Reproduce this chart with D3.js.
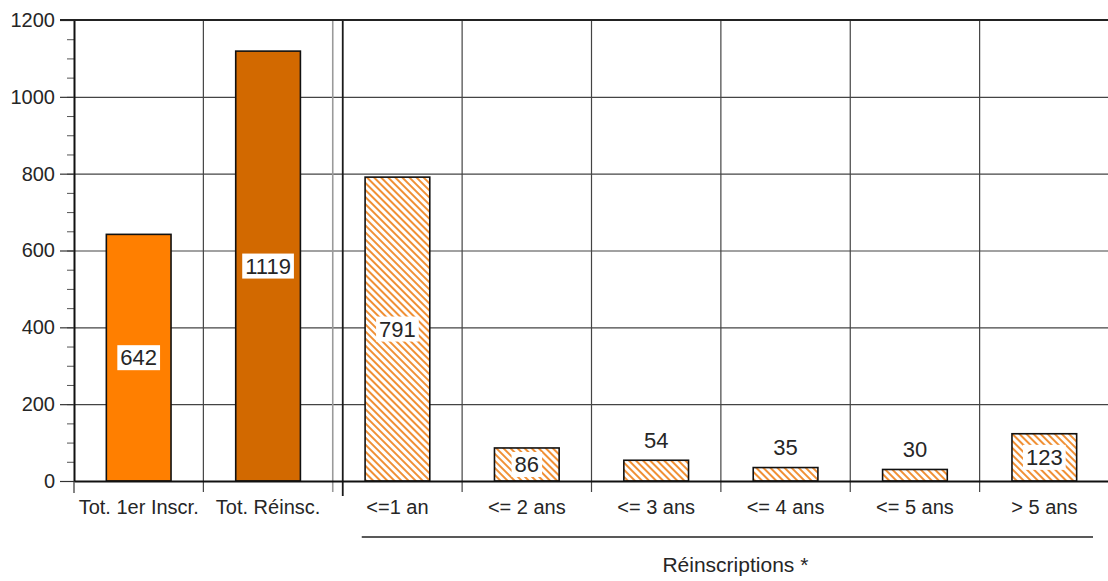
<!DOCTYPE html>
<html>
<head>
<meta charset="utf-8">
<script src="https://cdn.jsdelivr.net/npm/d3@7"></script>
<style>
  html, body { margin: 0; padding: 0; background: #fff; }
  svg { display: block; font-family: "Liberation Sans", Arial, sans-serif; }
</style>
</head>
<body>
<svg id="chart" width="1108" height="581"></svg>
<script>
// Inscriptions : totaux puis réinscriptions par ancienneté
const categories = ["Tot. 1er Inscr.", "Tot. Réinsc.", "<=1 an", "<= 2 ans", "<= 3 ans", "<= 4 ans", "<= 5 ans", "> 5 ans"];
const values = [642, 1119, 791, 86, 54, 35, 30, 123];
const barKinds = ["solid", "solid", "hatch", "hatch", "hatch", "hatch", "hatch", "hatch"];
const barColors = ["#ff7f00", "#d26900", "#f08a2a", "#f08a2a", "#f08a2a", "#f08a2a", "#f08a2a", "#f08a2a"];
const yTicks = [0, 200, 400, 600, 800, 1000, 1200];
const groupLabel = "Réinscriptions *";
const groupStart = 2; // first category of the "Réinscriptions" group

const svg = d3.select("#chart");
const plotLeft = 74, plotRight = 1109, plotTop = 20, plotBottom = 481;
const textColor = "#262626";

const x = d3.scaleBand().domain(categories).range([plotLeft, plotRight]).paddingInner(0).paddingOuter(0);
const y = d3.scaleLinear().domain([0, 1200]).range([plotBottom, plotTop]);

// hatch pattern for the breakdown bars
const defs = svg.append("defs");
const pat = defs.append("pattern")
  .attr("id", "hatch")
  .attr("patternUnits", "userSpaceOnUse")
  .attr("width", 5).attr("height", 5)
  .attr("patternTransform", "rotate(45)");
pat.append("rect").attr("width", 5).attr("height", 5).attr("fill", "#fff");
pat.append("line").attr("x1", 0).attr("y1", 1).attr("x2", 5).attr("y2", 1)
  .attr("stroke", "#f08a2a").attr("stroke-width", 1.9);

// horizontal gridlines
svg.append("g")
  .attr("transform", `translate(${plotLeft},0)`)
  .call(d3.axisLeft(y).tickValues(yTicks).tickSize(-(plotRight - plotLeft)).tickFormat(""))
  .call(g => g.select(".domain").remove())
  .call(g => g.selectAll("line").attr("stroke", "#444").attr("stroke-width", 1.2));

// vertical gridlines at band boundaries
const boundaries = categories.slice(1).map(c => x(c));
svg.append("g").selectAll("line.vgrid")
  .data(boundaries)
  .join("line")
  .attr("x1", d => d).attr("x2", d => d)
  .attr("y1", plotTop).attr("y2", plotBottom + 11)
  .attr("stroke", (d, i) => i === groupStart - 1 ? "#9a9a9a" : "#444")
  .attr("stroke-width", (d, i) => i === groupStart - 1 ? 1.6 : 1.2);

// separator between totals and the breakdown
const sepX = x(categories[groupStart]) + 10;
svg.append("line")
  .attr("x1", sepX).attr("x2", sepX)
  .attr("y1", plotTop).attr("y2", plotBottom + 15)
  .attr("stroke", "#1a1a1a").attr("stroke-width", 1.8);

// minor ticks on the value axis
svg.append("g")
  .attr("transform", `translate(${plotLeft},0)`)
  .call(d3.axisLeft(y).tickValues(d3.range(0, 1201, 50)).tickSize(7).tickFormat(""))
  .call(g => g.select(".domain").remove())
  .call(g => g.selectAll("line").attr("stroke", "#555").attr("stroke-width", 1));

// value axis with labels
svg.append("g")
  .attr("transform", `translate(${plotLeft},0)`)
  .call(d3.axisLeft(y).tickValues(yTicks).tickFormat(d3.format("d")).tickSize(14).tickPadding(5).tickSizeOuter(0))
  .call(g => g.select(".domain").attr("stroke", "#111").attr("stroke-width", 2))
  .call(g => g.selectAll(".tick line").attr("stroke", "#333").attr("stroke-width", 1.2))
  .call(g => g.selectAll("text").attr("font-size", 20).attr("fill", textColor)
    .attr("font-family", '"Liberation Sans", Arial, sans-serif'));

// top border
svg.append("line")
  .attr("x1", plotLeft - 14).attr("x2", plotRight)
  .attr("y1", plotTop).attr("y2", plotTop)
  .attr("stroke", "#222").attr("stroke-width", 1.8);

// bars
svg.append("g").selectAll("rect.bar")
  .data(categories)
  .join("rect")
  .attr("x", (c) => x(c) + x.bandwidth() * 0.25)
  .attr("width", x.bandwidth() * 0.5)
  .attr("y", (c, i) => y(values[i]))
  .attr("height", (c, i) => y(0) - y(values[i]))
  .attr("fill", (c, i) => barKinds[i] === "hatch" ? "url(#hatch)" : barColors[i])
  .attr("stroke", "#111").attr("stroke-width", 1.6);

// category axis
svg.append("g")
  .attr("transform", `translate(0,${plotBottom})`)
  .call(d3.axisBottom(x).tickSize(0).tickPadding(19).tickSizeOuter(0))
  .call(g => g.select(".domain").attr("stroke", "#111").attr("stroke-width", 2))
  .call(g => g.selectAll("text").attr("font-size", 20).attr("fill", textColor)
    .attr("font-family", '"Liberation Sans", Arial, sans-serif'));

svg.append("line")
  .attr("x1", plotLeft).attr("x2", plotLeft)
  .attr("y1", plotBottom).attr("y2", plotBottom + 12)
  .attr("stroke", "#333").attr("stroke-width", 1.2);

// value labels: centred in the bar on a white box, or above short bars
const labels = svg.append("g");
categories.forEach((c, i) => {
  const v = values[i];
  const cx = x(c) + x.bandwidth() / 2;
  const h = y(0) - y(v);
  const inside = h >= 30;
  const ty = inside ? (y(v) + y(0)) / 2 : y(v) - 20;
  const t = labels.append("text")
    .attr("x", cx).attr("y", ty)
    .attr("text-anchor", "middle").attr("dominant-baseline", "central")
    .attr("font-size", 22).attr("fill", textColor)
    .text(v);
  if (inside) {
    const bb = t.node().getBBox();
    labels.insert("rect", () => t.node())
      .attr("x", bb.x - 3).attr("y", bb.y)
      .attr("width", bb.width + 6).attr("height", bb.height)
      .attr("fill", "#fff");
  }
});

// group bracket and title
const gx0 = x(categories[groupStart]) + 29;
const gx1 = plotRight - 16;
svg.append("line")
  .attr("x1", gx0).attr("x2", gx1)
  .attr("y1", 537).attr("y2", 537)
  .attr("stroke", "#222").attr("stroke-width", 1.6);
svg.append("text")
  .attr("x", (gx0 + gx1) / 2 + 8).attr("y", 572)
  .attr("text-anchor", "middle")
  .attr("font-size", 21).attr("fill", textColor)
  .text(groupLabel);
</script>
</body>
</html>
